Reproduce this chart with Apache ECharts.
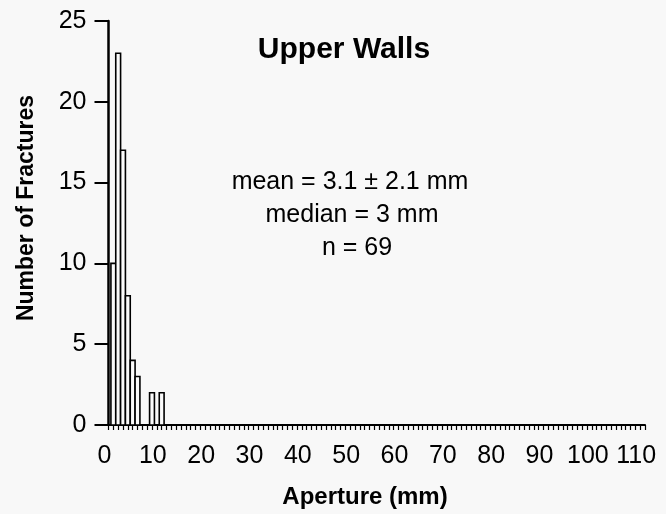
<!DOCTYPE html>
<html>
<head>
<meta charset="utf-8">
<script src="https://cdn.jsdelivr.net/npm/echarts@6/dist/echarts.min.js"></script>
<style>
html,body{margin:0;padding:0;background:#f8f8f8;}
#chart{width:666px;height:514px;}
</style>
</head>
<body>
<div id="chart"></div>
<script>
// Data (1 mm bins)
var apertures = [1, 2, 3, 4, 5, 6, 9, 11];
var counts = [10, 23, 17, 8, 4, 3, 2, 2];
var xTicks = [0, 10, 20, 30, 40, 50, 60, 70, 80, 90, 100, 110];
var yTicks = [0, 5, 10, 15, 20, 25];
var titleText = 'Upper Walls';
var statLines = ['mean = 3.1 \u00b1 2.1 mm', 'median = 3 mm', 'n = 69'];
var xTitle = 'Aperture (mm)';
var yTitle = 'Number of Fractures';

var FONT = '"Liberation Sans", Arial, Helvetica, sans-serif';
var chart = echarts.init(document.getElementById('chart'));

var barData = apertures.map(function (a, i) { return [a, counts[i]]; });

chart.setOption({
  backgroundColor: '#f8f8f8',
  animation: false,
  grid: { left: 108.5, right: 21, top: 21, bottom: 89, containLabel: false },
  xAxis: {
    type: 'value',
    min: 0,
    max: 111,
    interval: 10,
    axisLine: { show: true, onZero: false, lineStyle: { color: '#000', width: 2 } },
    axisTick: { show: true, length: 5, lineStyle: { color: '#000', width: 1.2 } },
    minorTick: { show: true, splitNumber: 10, length: 5, lineStyle: { color: '#000', width: 1.2 } },
    splitLine: { show: false },
    axisLabel: {
      margin: 19,
      fontFamily: FONT,
      fontSize: 25,
      color: '#000',
      padding: [0, 8, 0, 0],
      hideOverlap: false,
      customValues: xTicks
    }
  },
  yAxis: {
    type: 'value',
    min: 0,
    max: 25,
    interval: 5,
    axisLine: { show: true, lineStyle: { color: '#000', width: 2.5 } },
    axisTick: { show: true, length: 14, lineStyle: { color: '#000', width: 2 } },
    splitLine: { show: false },
    axisLabel: {
      margin: 22,
      fontFamily: FONT,
      fontSize: 25,
      color: '#000',
      customValues: yTicks
    }
  },
  series: [{
    type: 'custom',
    data: barData,
    renderItem: function (params, api) {
      var x = api.value(0), y = api.value(1);
      var p0 = api.coord([x - 0.5, y]);
      var p1 = api.coord([x + 0.5, 0]);
      return {
        type: 'rect',
        shape: { x: p0[0], y: p0[1], width: p1[0] - p0[0], height: p1[1] - p0[1] },
        style: { fill: '#fbfbfb', stroke: '#000', lineWidth: 1.6 }
      };
    }
  }],
  graphic: [
    {
      type: 'text', x: 344, y: 50,
      style: { text: titleText, font: 'bold 30px ' + FONT, fill: '#000', align: 'center', verticalAlign: 'middle' }
    },
    {
      type: 'text', x: 350, y: 182,
      style: { text: statLines[0], font: '25px ' + FONT, fill: '#000', align: 'center', verticalAlign: 'middle' }
    },
    {
      type: 'text', x: 352, y: 215,
      style: { text: statLines[1], font: '25px ' + FONT, fill: '#000', align: 'center', verticalAlign: 'middle' }
    },
    {
      type: 'text', x: 357, y: 248,
      style: { text: statLines[2], font: '25px ' + FONT, fill: '#000', align: 'center', verticalAlign: 'middle' }
    },
    {
      type: 'text', x: 365, y: 497,
      style: { text: xTitle, font: 'bold 24px ' + FONT, fill: '#000', align: 'center', verticalAlign: 'middle' }
    },
    {
      type: 'text', x: 27, y: 208, rotation: Math.PI / 2,
      style: { text: yTitle, font: 'bold 23px ' + FONT, fill: '#000', align: 'center', verticalAlign: 'middle' }
    }
  ]
});
</script>
</body>
</html>
